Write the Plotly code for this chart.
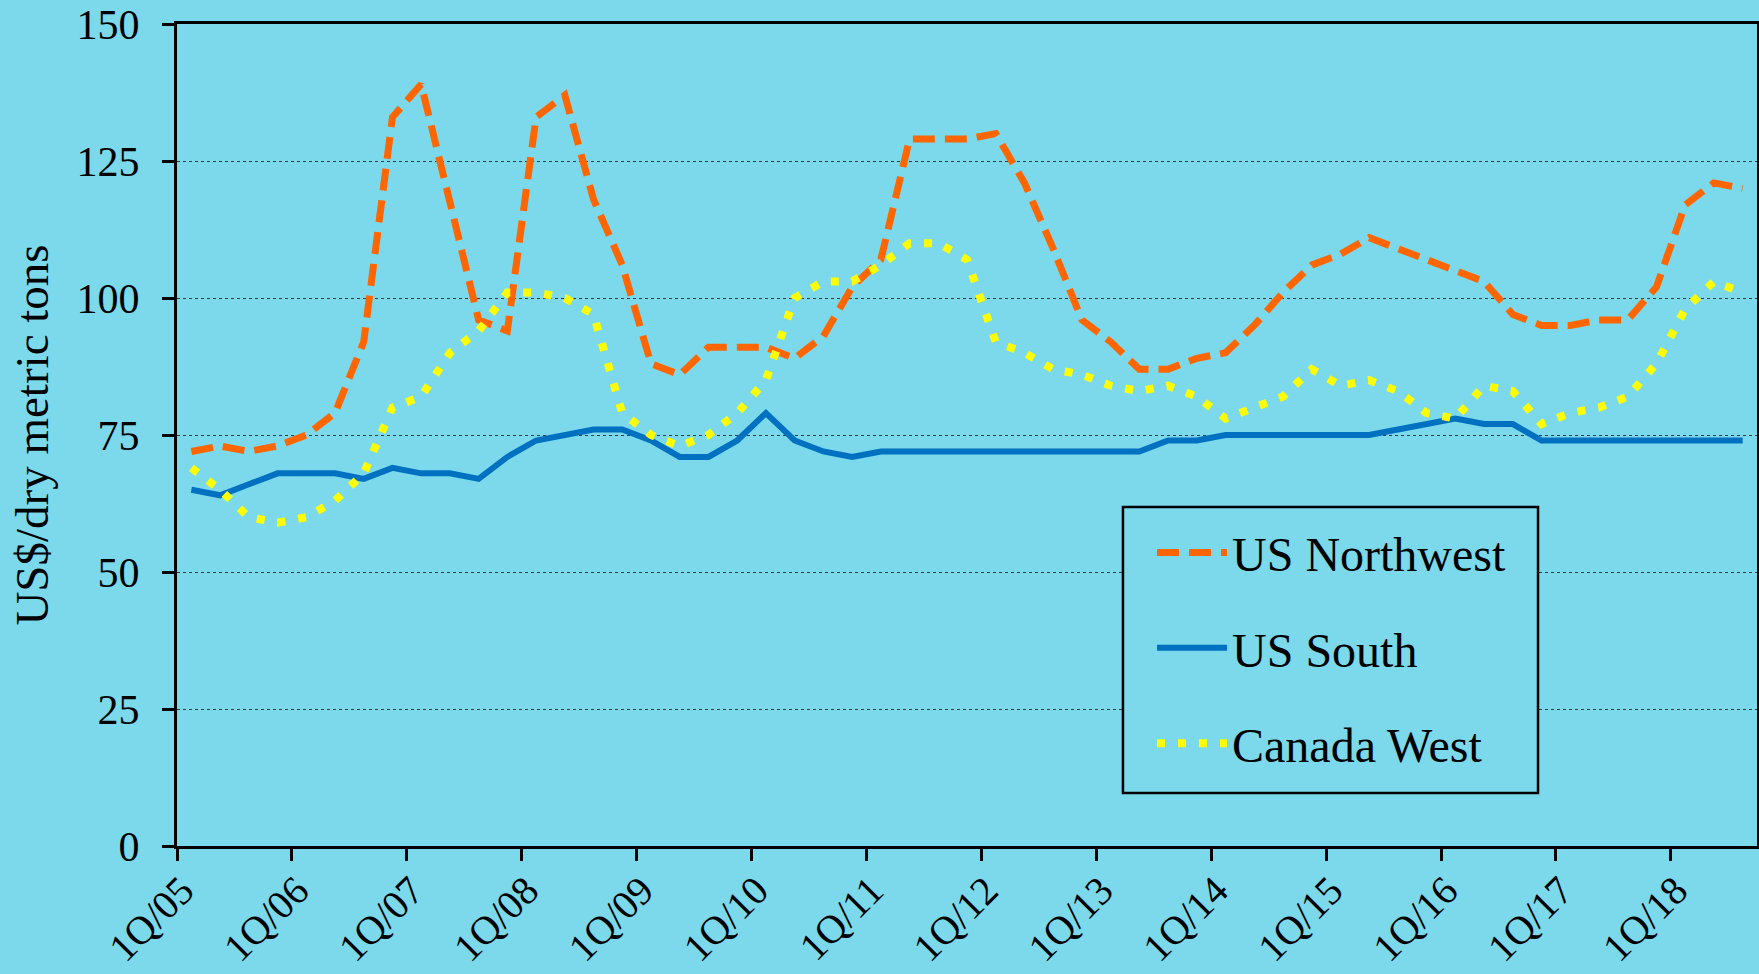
import plotly.graph_objects as go

# Quarterly categories 1Q/05 .. 3Q/18 (55 quarters)
quarters = [f"{q}Q/{y:02d}" for y in range(5, 19) for q in range(1, 5)][:55]
tick_labels = [f"1Q/{y:02d}" for y in range(5, 19)]

us_northwest = [72, 73, 72, 73, 75, 79, 92, 133, 139, 118, 96, 94, 133, 137, 118, 106,
                88, 86, 91, 91, 91, 89, 93, 102, 107, 129, 129, 129, 130, 121, 109, 96,
                92, 87, 87, 89, 90, 95, 101, 106, 108, 111, 109, 107, 105, 103, 97, 95,
                95, 96, 96, 102, 117, 121, 120]
us_south = [65, 64, 66, 68, 68, 68, 67, 69, 68, 68, 67, 71, 74, 75, 76, 76,
            74, 71, 71, 74, 79, 74, 72, 71, 72, 72, 72, 72, 72, 72, 72, 72,
            72, 72, 74, 74, 75, 75, 75, 75, 75, 75, 76, 77, 78, 77, 77, 74,
            74, 74, 74, 74, 74, 74, 74]
canada_west = [69, 65, 60, 59, 60, 63, 68, 80, 82, 90, 94, 101, 101, 100, 97, 79,
               75, 73, 75, 79, 85, 100, 103, 103, 106, 110, 110, 107, 92, 90, 87, 86,
               84, 83, 84, 82, 78, 80, 82, 87, 84, 85, 83, 79, 78, 84, 83, 77,
               79, 80, 82, 88, 98, 103, 101]
y_ticks = [0, 25, 50, 75, 100, 125, 150]

BG = "#7BD9EB"
FONT = "Liberation Serif"

# category centres on a continuous quarter scale
xpos = [i + 0.5 for i in range(len(quarters))]
tick_pos = [quarters.index(t) for t in tick_labels]

fig = go.Figure()
fig.add_trace(go.Scatter(x=xpos, y=us_northwest, name="US Northwest", mode="lines",
                         line=dict(color="#FF6600", width=7, dash="22px,10px"),
                         legendgroup="a", hovertext=quarters))
fig.add_trace(go.Scatter(x=xpos, y=us_south, name="US South", mode="lines",
                         line=dict(color="#0070C0", width=6),
                         legendgroup="b", hovertext=quarters))
fig.add_trace(go.Scatter(x=xpos, y=canada_west, name="Canada West", mode="lines",
                         line=dict(color="#FFFF00", width=8, dash="8px,13px"),
                         legendgroup="c", hovertext=quarters))

fig.update_layout(
    width=1759, height=974,
    margin=dict(l=177, r=2, t=24, b=128),
    paper_bgcolor=BG, plot_bgcolor=BG,
    font=dict(family=FONT, color="black", size=42),
    showlegend=True,
    legend=dict(x=0.6171, y=0.403, xanchor="left", yanchor="top",
                bgcolor="rgba(0,0,0,0)", borderwidth=0,
                font=dict(family=FONT, size=48, color="black"),
                tracegroupgap=30, itemwidth=70),
    shapes=[dict(type="rect", xref="paper", yref="paper",
                 x0=0.5987, x1=0.8614, y0=0.0645, y1=0.4124,
                 line=dict(color="black", width=2.5), fillcolor=BG, layer="above")],
)

fig.update_xaxes(
    range=[0, 55], tickmode="array", tickvals=tick_pos, ticktext=tick_labels,
    tickangle=-45, ticks="outside", ticklen=12, tickwidth=2.5, tickcolor="black",
    ticklabelshift=5, ticklabelstandoff=-10, automargin=False,
    tickfont=dict(family=FONT, size=40, color="black"),
    showline=True, linecolor="black", linewidth=3, mirror=True,
    showgrid=False, zeroline=False,
)
fig.update_yaxes(
    range=[0, 150], tickmode="array", tickvals=y_ticks,
    ticks="outside", ticklen=12, tickwidth=2.5, tickcolor="black",
    ticklabelstandoff=14, automargin=False,
    tickfont=dict(family=FONT, size=42, color="black"),
    showline=True, linecolor="black", linewidth=3, mirror=True,
    showgrid=True, gridcolor="#3a3a3a", gridwidth=1, griddash="dot",
    zeroline=False,
    title=dict(text="US$/dry metric tons", font=dict(family=FONT, size=47, color="black"),
               standoff=14),
)

fig.write_html("out.html",
               config={"displayModeBar": False},
               post_script="document.body.style.margin='0';"
                           "document.body.style.background='" + BG + "';")
